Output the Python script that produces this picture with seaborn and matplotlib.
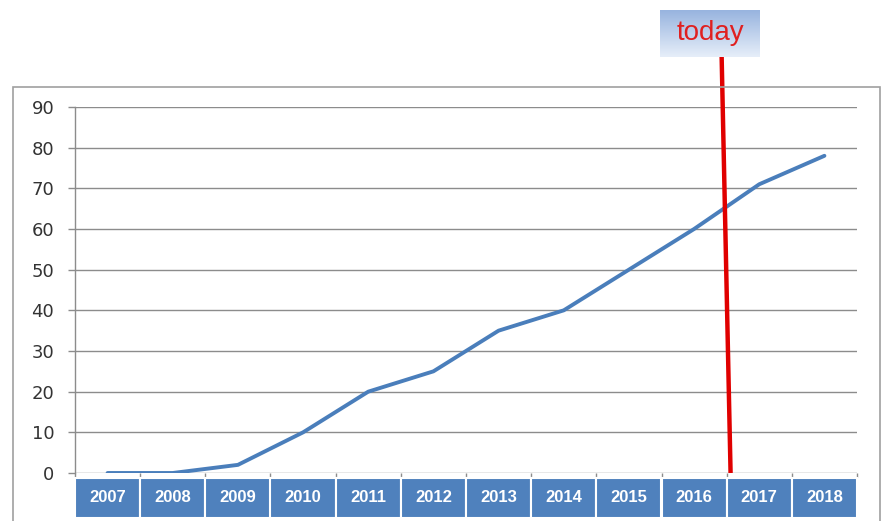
import numpy as np
import pandas as pd
import matplotlib
matplotlib.use("Agg")
import matplotlib.pyplot as plt
import matplotlib.transforms as mtransforms
from matplotlib.patches import Rectangle
import seaborn as sns

years = ["2007", "2008", "2009", "2010", "2011", "2012",
         "2013", "2014", "2015", "2016", "2017", "2018"]
values = [0, 0, 2, 10, 20, 25, 35, 40, 50, 60, 71, 78]
y_ticks = [0, 10, 20, 30, 40, 50, 60, 70, 80, 90]
today_label = "today"

sns.set_theme(style="white")
plt.rcParams['font.family'] = ['DejaVu Sans']

fig = plt.figure(figsize=(8.85, 5.21), dpi=100)
fig.patch.set_facecolor("white")

# outer frame
fig.patches.append(Rectangle((0.0147, -0.02), 0.9797, 0.853, transform=fig.transFigure,
                             fill=False, edgecolor="#a0a0a0", linewidth=1.2, zorder=0))

ax = fig.add_axes([75 / 885, 48 / 521, 782 / 885, 366 / 521])
df = pd.DataFrame({"year": years, "value": values})
sns.lineplot(data=df, x="year", y="value", ax=ax, color="#4A7EBB", linewidth=2.8, zorder=3)

n = len(years)
ax.set_xlim(-0.5, n - 0.5)
ax.set_ylim(0, 90)
ax.set_yticks(y_ticks)
ax.set_yticklabels([str(t) for t in y_ticks], fontsize=13, color="#333333")
ax.tick_params(axis="y", length=5, width=1, color="#8c8c8c", pad=10, left=True)
for t in y_ticks:
    ax.axhline(t, color="#8c8c8c", linewidth=1, zorder=1)
for s in ["top", "right", "bottom"]:
    ax.spines[s].set_visible(False)
ax.spines["left"].set_color("#8c8c8c")
ax.spines["left"].set_linewidth(1)
ax.set_xlabel("")
ax.set_ylabel("")
ax.set_xticks(np.arange(-0.5, n, 1.0))
ax.set_xticklabels([])
ax.tick_params(axis="x", length=3, width=1, color="#8c8c8c", bottom=True, direction="out")

# category boxes
trans = mtransforms.blended_transform_factory(ax.transData, ax.transAxes)
for i, yr in enumerate(years):
    ax.add_patch(Rectangle((i - 0.5, -0.122), 1.0, 0.108, transform=trans,
                           facecolor="#4F81BD", edgecolor="white", linewidth=1.5,
                           clip_on=False, zorder=2))
    ax.text(i, -0.068, yr, transform=trans, ha="center", va="center",
            color="white", fontsize=12, fontweight="bold",
            family=["Liberation Sans", "DejaVu Sans"], clip_on=False)

# today line
ax.plot([9.42, 9.56], [104.5, 0], color="#E00000", linewidth=3.2,
        solid_capstyle="butt", clip_on=False, zorder=4)

# today label box with gradient
lab_ax = fig.add_axes([660 / 885, 1 - 57 / 521, 100 / 885, 47 / 521])
grad = np.linspace(0, 1, 64).reshape(-1, 1)
cmap = matplotlib.colors.LinearSegmentedColormap.from_list("g", ["#98b4df", "#e6eef9"])
lab_ax.imshow(grad, aspect="auto", cmap=cmap, extent=[0, 1, 0, 1], origin="upper")
lab_ax.set_xlim(0, 1)
lab_ax.set_ylim(0, 1)
lab_ax.axis("off")
lab_ax.text(0.5, 0.5, today_label, ha="center", va="center", color="#E02020",
            fontsize=20, family=["Liberation Sans", "DejaVu Sans"])

fig.savefig("out.png", dpi=100, facecolor="white")
